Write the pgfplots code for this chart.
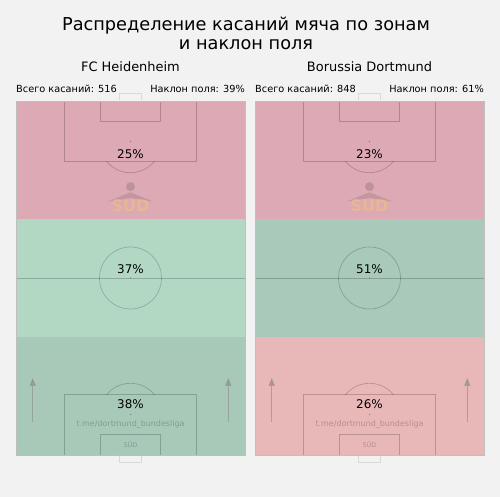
\documentclass[border=0pt]{standalone}
\usepackage{fontspec}
\setmainfont{DejaVu Sans}
\usepackage{pgfplots}
\pgfplotsset{compat=1.18}
\usetikzlibrary{arrows.meta}

\definecolor{bg}{HTML}{F2F2F2}
\definecolor{zpink}{HTML}{DCA9B4}
\definecolor{zgreenA}{HTML}{B2D8C4}
\definecolor{zgreenB}{HTML}{A8C9B8}
\definecolor{zgreenC}{HTML}{A9C9BB}
\definecolor{zred}{HTML}{E8B7B7}
\definecolor{lionc}{HTML}{A07C80}
\definecolor{sudc}{HTML}{EBB98C}
\definecolor{arrc}{HTML}{8C8C8C}

\tikzset{
  pl/.style={draw=black, draw opacity=0.2, line width=0.7bp},
  outl/.style={draw=black!25, line width=0.9bp},
  goal/.style={draw=white!85!black, line width=0.9bp},
  dotc/.style={fill=black, fill opacity=0.45},
  arr/.style={draw=arrc, fill=arrc, draw opacity=0.6, fill opacity=0.6, line width=1.3bp, -{Triangle[length=8bp,width=6bp]}},
}

\newcommand{\pitchmarks}{%
  \draw[pl] (axis cs:0,50) -- (axis cs:100,50);
  \draw[pl] (axis cs:50,50) circle[radius=31bp];
  \fill[dotc] (axis cs:50,50) circle[radius=0.5bp];
  \draw[pl] (axis cs:21.1,100) -- (axis cs:21.1,83) -- (axis cs:78.9,83) -- (axis cs:78.9,100);
  \draw[pl] (axis cs:36.8,100) -- (axis cs:36.8,94.2) -- (axis cs:63.2,94.2) -- (axis cs:63.2,100);
  \draw[pl] (axis cs:21.1,0) -- (axis cs:21.1,17) -- (axis cs:78.9,17) -- (axis cs:78.9,0);
  \draw[pl] (axis cs:36.8,0) -- (axis cs:36.8,5.8) -- (axis cs:63.2,5.8) -- (axis cs:63.2,0);
  \fill[dotc] (axis cs:50,88.5) circle[radius=0.5bp];
  \fill[dotc] (axis cs:50,11.5) circle[radius=0.5bp];
  \draw[pl] (axis cs:50,88.5) ++(219:31bp) arc[start angle=219, end angle=321, radius=31bp];
  \draw[pl] (axis cs:50,11.5) ++(39:31bp) arc[start angle=39, end angle=141, radius=31bp];
  \draw[outl] (axis cs:0,0) rectangle (axis cs:100,100);
  \draw[goal] (axis cs:45.2,100.2) -- (axis cs:45.2,102) -- (axis cs:54.8,102) -- (axis cs:54.8,100.2);
  \draw[goal] (axis cs:45.2,-0.2) -- (axis cs:45.2,-2) -- (axis cs:54.8,-2) -- (axis cs:54.8,-0.2);
  \draw[arr] (axis cs:7.3,9.3) -- (axis cs:7.3,21.8);
  \draw[arr] (axis cs:92.7,9.3) -- (axis cs:92.7,21.8);
  \node[text=black, text opacity=0.22, font=\fontsize{8}{9}\selectfont] at (axis cs:50,8.5) {t.me/dortmund\_bundesliga};
  \node[text=black, text opacity=0.22, font=\fontsize{6.5}{7}\selectfont] at (axis cs:50,2.9) {SÜD};
  % logo watermark
  \fill[lionc, opacity=0.5] (axis cs:50,75.8) circle[radius=4.5bp];
  \fill[lionc, opacity=0.4] (axis cs:50,74.2) -- (axis cs:40,71.6) -- (axis cs:50,72.6) -- cycle;
  \fill[lionc, opacity=0.4] (axis cs:50,74.2) -- (axis cs:60,71.6) -- (axis cs:50,72.6) -- cycle;
  \node[text=sudc, text opacity=0.85, font=\bfseries\fontsize{16}{17}\selectfont] at (axis cs:50,70.4) {SUD};
}

\pgfplotsset{pitch/.style={
  anchor=south west, scale only axis, width=229bp, height=354bp,
  xmin=0, xmax=100, ymin=0, ymax=100, axis lines=none, clip=false}}

\begin{document}
\begin{tikzpicture}
\fill[bg] (0bp,0bp) rectangle (500bp,497bp);
\useasboundingbox (0bp,0bp) rectangle (500bp,497bp);

\node[anchor=base, font=\fontsize{17.8}{20}\selectfont] at (246bp,466bp) {Распределение касаний мяча по зонам};
\node[anchor=base, font=\fontsize{17.8}{20}\selectfont] at (246bp,447bp) {и наклон поля};
\node[anchor=base, font=\fontsize{13}{15}\selectfont] at (130.5bp,425bp) {FC Heidenheim};
\node[anchor=base, font=\fontsize{13}{15}\selectfont] at (369.5bp,425bp) {Borussia Dortmund};
\node[anchor=base west, inner sep=0pt, font=\fontsize{9.8}{11}\selectfont] at (16bp,404bp) {Всего касаний: 516};
\node[anchor=base east, inner sep=0pt, font=\fontsize{9.8}{11}\selectfont] at (245bp,404bp) {Наклон поля: 39\%};
\node[anchor=base west, inner sep=0pt, font=\fontsize{9.8}{11}\selectfont] at (255bp,404bp) {Всего касаний: 848};
\node[anchor=base east, inner sep=0pt, font=\fontsize{9.8}{11}\selectfont] at (484bp,404bp) {Наклон поля: 61\%};

% FC Heidenheim: touches share by zone (own third bottom, attacking third top)
\begin{axis}[pitch, at={(16bp,42bp)}]
\addplot[fill=zgreenB, draw=none] coordinates {(0,0) (100,0) (100,33.33) (0,33.33)} -- cycle;
\addplot[fill=zgreenA, draw=none] coordinates {(0,33.33) (100,33.33) (100,66.67) (0,66.67)} -- cycle;
\addplot[fill=zpink, draw=none] coordinates {(0,66.67) (100,66.67) (100,100) (0,100)} -- cycle;
\pitchmarks
\node[font=\fontsize{12}{14}\selectfont] at (axis cs:50,85.0) {25\%};
\node[font=\fontsize{12}{14}\selectfont] at (axis cs:50,52.5) {37\%};
\node[font=\fontsize{12}{14}\selectfont] at (axis cs:50,14.4) {38\%};
\end{axis}

% Borussia Dortmund
\begin{axis}[pitch, at={(255bp,42bp)}]
\addplot[fill=zred, draw=none] coordinates {(0,0) (100,0) (100,33.33) (0,33.33)} -- cycle;
\addplot[fill=zgreenC, draw=none] coordinates {(0,33.33) (100,33.33) (100,66.67) (0,66.67)} -- cycle;
\addplot[fill=zpink, draw=none] coordinates {(0,66.67) (100,66.67) (100,100) (0,100)} -- cycle;
\pitchmarks
\node[font=\fontsize{12}{14}\selectfont] at (axis cs:50,85.0) {23\%};
\node[font=\fontsize{12}{14}\selectfont] at (axis cs:50,52.5) {51\%};
\node[font=\fontsize{12}{14}\selectfont] at (axis cs:50,14.4) {26\%};
\end{axis}
\end{tikzpicture}
\end{document}
